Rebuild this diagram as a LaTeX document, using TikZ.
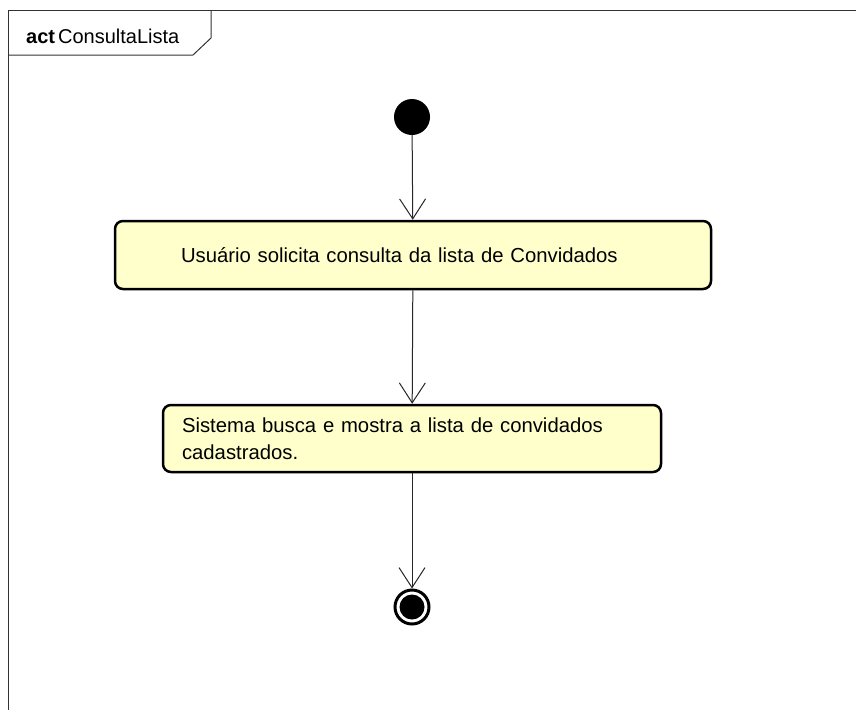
\documentclass[tikz,border=0pt]{standalone}
\usepackage{fontspec}
\setmainfont{Liberation Sans}
\usetikzlibrary{arrows.meta}
\definecolor{actfill}{HTML}{FFFFCC}
\tikzset{
  frame/.style={draw=black!80, line width=1pt},
  action/.style={draw=black, line width=2.5pt, rounded corners=8pt, fill=actfill,
    align=left, font=\fontsize{20.3}{27}\selectfont},
  flow/.style={draw=black!85, line width=1pt, -{Straight Barb[length=20pt,width=26pt]}},
}
\begin{document}
\begin{tikzpicture}[x=1pt,y=-1pt]
  \useasboundingbox (0,0) rectangle (856,710);
  % frame and its header
  \draw[frame] (856,10) -- (8,10) -- (8,710);
  \draw[frame] (8,55) -- (193,55) -- (211,38) -- (211,10);
  \node[anchor=base west, inner sep=0pt, font=\fontsize{20}{24}\selectfont] (title) at (26,43) {\textbf{act}\hspace{3pt}ConsultaLista};
  % initial and final nodes
  \node[circle, fill=black, minimum size=36pt, inner sep=0pt] (start) at (412,117) {};
  \node[circle, draw=black, line width=3pt, fill=white, minimum size=34pt, inner sep=0pt] (stop) at (412,607) {};
  \fill (stop.center) circle (12.5pt);
  % actions
  \node[action, minimum height=68pt, inner xsep=66pt, text width=464pt] (ask) at (413,255)
    {Usuário solicita consulta da lista de Convidados};
  \node[action, minimum height=67pt, inner xsep=19pt, text width=460pt] (show) at (412,438.5)
    {Sistema busca e mostra a lista de convidados\\cadastrados.};
  % flows
  \draw[flow] (start) -- (ask);
  \draw[flow] (ask) -- (show);
  \draw[flow] (show) -- (stop);
\end{tikzpicture}
\end{document}
